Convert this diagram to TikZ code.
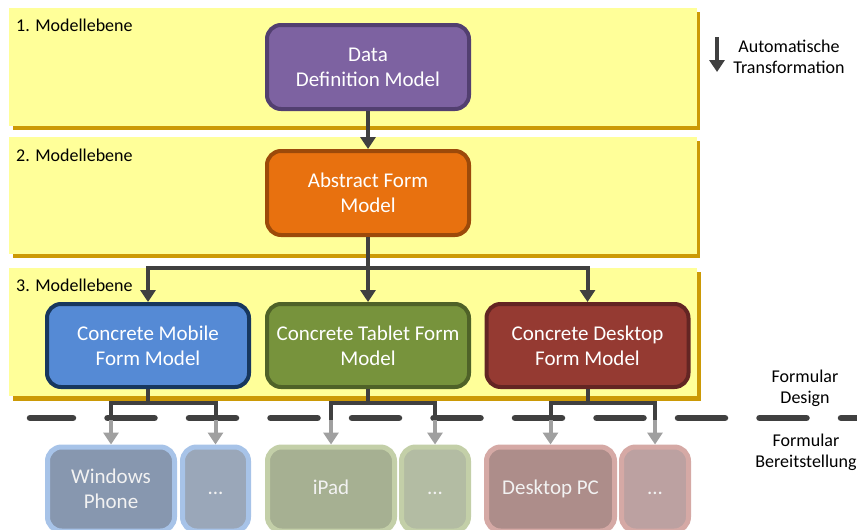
\documentclass[tikz,border=0pt]{standalone}
\usepackage{fontspec}
\setmainfont{Carlito}
\usetikzlibrary{arrows.meta}
\definecolor{bandfill}{HTML}{FFFF99}
\definecolor{bandshadow}{HTML}{CC9A06}
\definecolor{darkc}{HTML}{404040}
\definecolor{grayc}{HTML}{A0A0A0}
\definecolor{purpf}{HTML}{7D62A1}
\definecolor{purpd}{HTML}{523F70}
\definecolor{oranf}{HTML}{E8710F}
\definecolor{orand}{HTML}{9C4A0A}
\definecolor{bluef}{HTML}{558AD5}
\definecolor{blued}{HTML}{17375E}
\definecolor{greenf}{HTML}{77933C}
\definecolor{greend}{HTML}{4F6228}
\definecolor{redf}{HTML}{953A32}
\definecolor{redd}{HTML}{632523}
\definecolor{wpf}{HTML}{8797AF}
\definecolor{wpx}{HTML}{9AA7B9}
\definecolor{wpd}{HTML}{A7C3E8}
\definecolor{ipf}{HTML}{A6B092}
\definecolor{ipx}{HTML}{B3BCA3}
\definecolor{ipd}{HTML}{C3CFA8}
\definecolor{dpf}{HTML}{AD8D8A}
\definecolor{dpx}{HTML}{BCA1A1}
\definecolor{dpd}{HTML}{D5A9A5}
\definecolor{devtext}{HTML}{F2F2F2}
\begin{document}
\begin{tikzpicture}[x=1pt,y=-1pt,
  box/.style={draw, line width=4pt, rounded corners=14pt, minimum width=202pt,
    minimum height=84pt, align=center, text=white, inner sep=0pt,
    font=\fontsize{21}{25}\selectfont},
  dev/.style={draw, line width=5pt, rounded corners=14pt, minimum height=84pt,
    align=center, text=devtext, inner sep=0pt, font=\fontsize{21}{25}\selectfont},
  lbl/.style={inner sep=0pt, align=center, text=black, font=\fontsize{18}{21}\selectfont},
  link/.style={draw=darkc, line width=4pt, -{Triangle[width=15pt,length=12pt]}},
  dline/.style={draw=darkc, line width=4pt},
  glink/.style={draw=grayc, line width=4pt, -{Triangle[width=15pt,length=12pt]}},
  dashline/.style={draw=darkc, line width=6.5pt, line cap=round,
    dash pattern=on 47pt off 34.5pt, dash phase=4pt}
]
\useasboundingbox (0,0) rectangle (857,530);
\clip (0,0) rectangle (857,530);
% bands
\fill[bandshadow] (13,12) rectangle (700,130);
\fill[bandfill] (9,8) rectangle (697,126);
\fill[bandshadow] (13,141) rectangle (700,258);
\fill[bandfill] (9,137) rectangle (697,254);
\fill[bandshadow] (13,272) rectangle (701,401);
\fill[bandfill] (9,268) rectangle (697,396);
% level labels
\node[lbl, anchor=base west] (l1) at (16,31) {1. Modellebene};
\node[lbl, anchor=base west] (l2) at (16,161) {2. Modellebene};
\node[lbl, anchor=base west] (l3) at (16,291) {3. Modellebene};
% dashed separator
\draw[dashline] (30,418) -- (870,418);
% main nodes
\node[box, fill=purpf, draw=purpd] (ddm) at (368,67) {Data\\Definition Model};
\node[box, fill=oranf, draw=orand] (afm) at (368,193) {Abstract Form\\Model};
\node[box, fill=bluef, draw=blued, minimum height=83pt] (mob) at (148,345.5) {Concrete Mobile\\Form Model};
\node[box, fill=greenf, draw=greend, minimum height=83pt] (tab) at (368,345.5) {Concrete Tablet Form\\Model};
\node[box, fill=redf, draw=redd, minimum height=83pt] (desk) at (587.5,345.5) {Concrete Desktop\\Form Model};
% device nodes
\node[dev, fill=wpf, draw=wpd, minimum width=127pt] (wp) at (111,489) {Windows\\Phone};
\node[dev, fill=wpx, draw=wpd, minimum width=66pt] (wpm) at (215.5,489) {\strut...};
\node[dev, fill=ipf, draw=ipd, minimum width=127pt] (ip) at (331,489) {\strut iPad};
\node[dev, fill=ipx, draw=ipd, minimum width=67pt] (ipm) at (435,489) {\strut...};
\node[dev, fill=dpf, draw=dpd, minimum width=128pt] (dp) at (550.5,489) {\strut Desktop PC};
\node[dev, fill=dpx, draw=dpd, minimum width=67pt] (dpm) at (655,489) {\strut...};
% top connectors
\coordinate (hub) at (368,268);
\draw[link] (ddm) -- (afm);
\draw[dline] (afm) -- (hub);
\draw[link] (hub) -| (mob.north);
\draw[link] (hub) -- (tab.north);
\draw[link] (hub) -| (desk.north);
% device connectors
\coordinate (mobj) at (148,403);
\coordinate (tabj) at (368,403);
\coordinate (deskj) at (587.5,403);
\coordinate (wpt) at (111,420);
\coordinate (wpmt) at (215.5,420);
\coordinate (ipt) at (331,420);
\coordinate (ipmt) at (435,420);
\coordinate (dpt) at (550.5,420);
\coordinate (dpmt) at (655,420);
\draw[dline] (mob) -- (mobj);
\draw[dline] (wpt) |- (mobj) -| (wpmt);
\draw[dline] (tab) -- (tabj);
\draw[dline] (ipt) |- (tabj) -| (ipmt);
\draw[dline] (desk) -- (deskj);
\draw[dline] (dpt) |- (deskj) -| (dpmt);
\draw[glink] (wpt) -- (wp);
\draw[glink] (wpmt) -- (wpm);
\draw[glink] (ipt) -- (ip);
\draw[glink] (ipmt) -- (ipm);
\draw[glink] (dpt) -- (dp);
\draw[glink] (dpmt) -- (dpm);
% legend
\coordinate (lega) at (717,37);
\coordinate (legb) at (717,72);
\draw[link] (lega) -- (legb);
\node[lbl] (trans) at (789,57) {Automatische\\Transformation};
\node[lbl] (fdes) at (805,388) {Formular\\Design};
\node[lbl] (fber) at (806,452) {Formular\\Bereitstellung};
\end{tikzpicture}
\end{document}
